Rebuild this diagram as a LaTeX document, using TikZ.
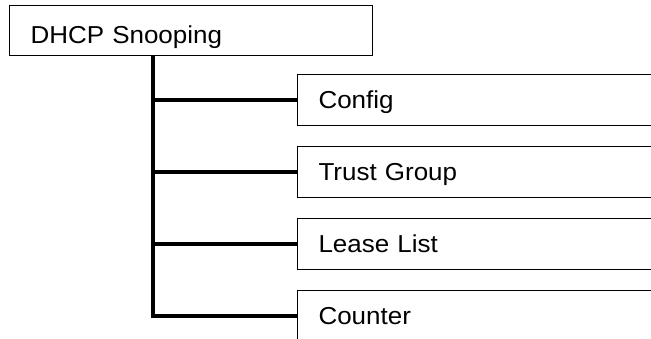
\documentclass[tikz,border=0pt]{standalone}
\usepackage{fontspec}
\setmainfont{Liberation Sans}[FakeStretch=1.06]

\begin{document}
\begin{tikzpicture}[x=1pt,y=-1pt,
    caja/.style={draw, line width=1.1pt, anchor=north west, minimum height=51pt,
        inner xsep=21pt, align=left, text depth=0pt,
        font=\fontsize{24.5}{28}\selectfont},
    raiz/.style={caja, text width=321pt, text height=25.5pt},
    hijo/.style={caja, text width=380pt, text height=17.5pt},
    rama/.style={line width=3.6pt}]
    % Fijar el marco del dibujo
    \clip (0,0) rectangle (651,339);

    % Caja principal
    \node[raiz, minimum height=50pt] (snoop) at (9,5) {DHCP Snooping};

    % Cajas hijas
    \node[hijo] (config) at (297,74) {Config};
    \node[hijo] (trust) at (297,146) {Trust Group};
    \node[hijo] (lease) at (297,218) {Lease List};
    \node[hijo] (counter) at (297,290) {Counter};

    % Linea vertical y ramas
    \coordinate (tronco) at ([xshift=144pt]snoop.south west);
    \draw[rama] (tronco) |- (counter.west);
    \draw[rama] (tronco |- config.west) -- (config.west);
    \draw[rama] (tronco |- trust.west) -- (trust.west);
    \draw[rama] (tronco |- lease.west) -- (lease.west);

\end{tikzpicture}
\end{document}
